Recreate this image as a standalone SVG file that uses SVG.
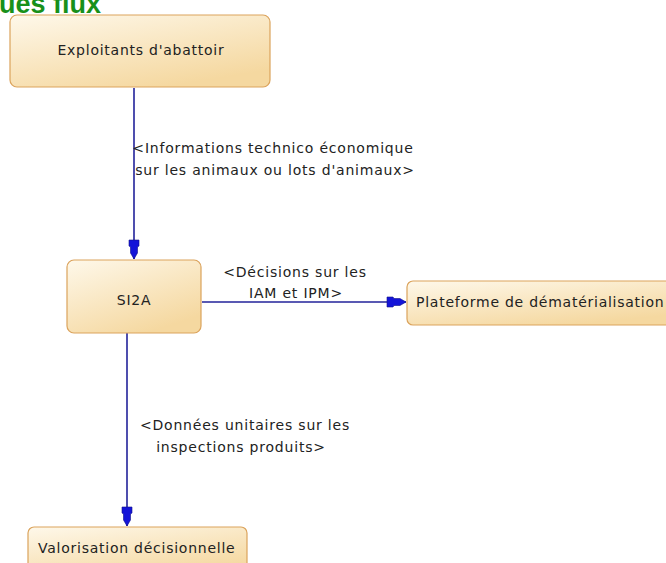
<svg xmlns="http://www.w3.org/2000/svg" width="666" height="563" viewBox="0 0 666 563">
<style>
.node rect{fill:url(#g);stroke:#dba35c;stroke-width:1.2}
.nt{font-family:"DejaVu Sans",Verdana,sans-serif;font-size:14px;letter-spacing:0.75px;fill:#222}
.lbl{font-family:"DejaVu Sans",Verdana,sans-serif;font-size:14px;letter-spacing:0.8px;fill:#222;text-anchor:middle}
.conn{stroke:#22229a;stroke-width:1.6;fill:none}
.title{font-family:"Liberation Sans",Arial,sans-serif;font-weight:bold;font-size:27px;fill:#18901a}
</style>
<defs>
<linearGradient id="g" x1="0" y1="0" x2="0.6" y2="1">
<stop offset="0" stop-color="#fef8ea"/>
<stop offset="1" stop-color="#f5d8a0"/>
</linearGradient>
<marker id="arr" viewBox="-20 -6 21 12" refX="0" refY="0" markerWidth="21" markerHeight="12" markerUnits="userSpaceOnUse" orient="auto">
<path d="M0,0 L-6,-3.5 L-12,-3.5 L-13,-5 L-19,-5 L-19,5 L-13,5 L-12,3.5 L-6,3.5 Z" fill="#1414d8" stroke="#10108a" stroke-width="0.6"/>
</marker>
</defs>
<rect width="666" height="563" fill="#fff"/>
<text class="title" x="-1" y="13">ues flux</text>
<g id="connectors">
<path class="conn" d="M134,88 L134,259" marker-end="url(#arr)"/>
<path class="conn" d="M202,302 L406,302" marker-end="url(#arr)"/>
<path class="conn" d="M127,333 L127,526" marker-end="url(#arr)"/>
<text class="lbl"><tspan x="273" y="153">&lt;Informations technico économique</tspan><tspan x="275" y="175">sur les animaux ou lots d'animaux&gt;</tspan></text>
<text class="lbl"><tspan x="295" y="277">&lt;Décisions sur les</tspan><tspan x="296" y="298">IAM et IPM&gt;</tspan></text>
<text class="lbl"><tspan x="245" y="430">&lt;Données unitaires sur les</tspan><tspan x="241" y="452">inspections produits&gt;</tspan></text>
</g>
<g id="n1" class="node"><rect x="10" y="15" width="260" height="72" rx="7"/><text class="nt" x="141" y="55" text-anchor="middle">Exploitants d'abattoir</text></g>
<g id="n2" class="node"><rect x="67" y="260" width="134" height="73" rx="7"/><text class="nt" x="134" y="305" text-anchor="middle">SI2A</text></g>
<g id="n3" class="node"><rect x="407" y="281" width="270" height="44" rx="6"/><text class="nt" x="416" y="307">Plateforme de dématérialisation</text></g>
<g id="n4" class="node"><rect x="28" y="527" width="219" height="50" rx="6"/><text class="nt" x="38" y="553">Valorisation décisionnelle</text></g>
</svg>
